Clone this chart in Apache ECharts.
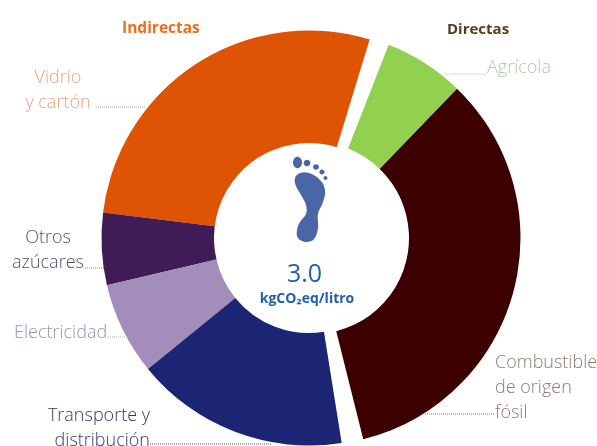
<!DOCTYPE html>
<html><head><meta charset="utf-8">
<style>html,body{margin:0;padding:0;background:#fff}#c{width:597px;height:446px}</style>
<script src="https://cdn.jsdelivr.net/npm/echarts@6/dist/echarts.min.js"></script>
</head><body><div id="c"></div>
<script>
const indirectNames = ['Vidrio\ny cartón', 'Otros\nazúcares', 'Electricidad', 'Transporte y\ndistribución'];
const indirectValues = [0.855, 0.173, 0.222, 0.513];
const directNames = ['Agrícola', 'Combustible\nde origen\nfósil'];
const directValues = [0.193, 1.044];
const indirectColors = ['#DF5305', '#3F1C56', '#A38DBB', '#1B2574'];
const directColors = ['#92D050', '#3D0000'];
const indirectLabelColors = ['#E6A482', '#55506A', '#9C90B8', '#34346E'];
const directLabelColors = ['#AECB9F', '#8F7B70'];
const indirectLabelPos = [[58, 65, 'center'], [48, 225, 'center'], [14, 320, 'left'], [150, 403, 'right']];
const directLabelPos = [[487, 55, 'left'], [495, 350, 'left']];
const fullCircle = 3.08; // the 3.0 total plus the white gaps between the two groups
const sum = a => a.reduce((s, v) => s + v, 0);
const hidden = v => ({ value: v, name: '', itemStyle: { color: 'transparent' }, label: { show: false }, labelLine: { show: false }, silent: true });
const FONT = '"Open Sans", sans-serif';

function ring(center, inner, startAngle, clockwise, names, values, colors, labelColors, pos) {
  return {
    type: 'pie', center, radius: [inner, 207.5], startAngle, clockwise,
    silent: true, avoidLabelOverlap: false, animation: false,
    itemStyle: { borderWidth: 0 },
    label: { show: true, fontFamily: FONT, fontWeight: 300, fontSize: 18, lineHeight: 25 },
    labelLine: { show: false },
    labelLayout: p => p.dataIndex < pos.length
      ? { x: pos[p.dataIndex][0], y: pos[p.dataIndex][1], align: pos[p.dataIndex][2], verticalAlign: 'top' } : {},
    data: names.map((n, i) => ({
      name: n, value: values[i], itemStyle: { color: colors[i] },
      label: { color: labelColors[i], align: pos[i][2] }
    })).concat([hidden(fullCircle - sum(values))])
  };
}

const leaders = [
  [96, 107, 145, 107, '#C9A08A'], [85, 268, 108, 268, '#8E889A'], [108, 337, 125, 337, '#AEA4C4'],
  [150, 444, 272, 444, '#55557F'], [425, 414, 495, 414, '#8F7B70'], [445, 74, 487, 74, '#AECB9F']
];
const footColor = '#4A66A6';
const toes = [[297.5, 162.5, 4.5, 5.8], [307, 163, 3.4, 3.2], [316, 167, 3, 2.8], [322, 172, 2.6, 2.4], [325.5, 178, 2, 2]];
const sole = [[295,178],[300,173],[309,173],[320,180],[325,190],[323,202],[318,214],[318,228],[314,239],[306,242],[298,238],[297,230],[300,222],[306,214],[306,205],[301,195],[296,186]];

const chart = echarts.init(document.getElementById('c'), null, { renderer: 'canvas' });
chart.setOption({
  animation: false,
  backgroundColor: '#fff',
  series: [
    ring([309, 238], 95, 73, false, indirectNames, indirectValues, indirectColors, indirectLabelColors, indirectLabelPos),
    ring([313, 238], 96, 68.6, true, directNames, directValues, directColors, directLabelColors, directLabelPos)
  ],
  graphic: [
    { type: 'text', x: 122, y: 21, style: { text: 'Indirectas', fontFamily: FONT, fontWeight: 700, fontSize: 15.5, fill: '#EE6E1E' } },
    { type: 'text', x: 447, y: 22, style: { text: 'Directas', fontFamily: FONT, fontWeight: 700, fontSize: 15, fill: '#5B3A1E' } },
    { type: 'text', z: 10, x: 304.5, y: 275, style: { text: '3.0', align: 'center', verticalAlign: 'middle', fontFamily: FONT, fontSize: 25, fill: '#1F5FAE' } },
    { type: 'text', z: 10, x: 307, y: 299, style: { text: 'kgCO₂eq/litro', align: 'center', verticalAlign: 'middle', fontFamily: FONT, fontWeight: 700, fontSize: 14, fill: '#1F5FAE' } },
    { type: 'polygon', z: 10, shape: { points: sole, smooth: 0.4 }, style: { fill: footColor } },
    ...toes.map(t => ({ type: 'ellipse', z: 10, shape: { cx: t[0], cy: t[1], rx: t[2], ry: t[3] }, style: { fill: footColor } })),
    ...leaders.map(l => ({ type: 'line', z: 1, shape: { x1: l[0], y1: l[1], x2: l[2], y2: l[3] }, style: { stroke: l[4], lineWidth: 1, lineDash: [1, 1] } }))
  ]
});
</script></body></html>
